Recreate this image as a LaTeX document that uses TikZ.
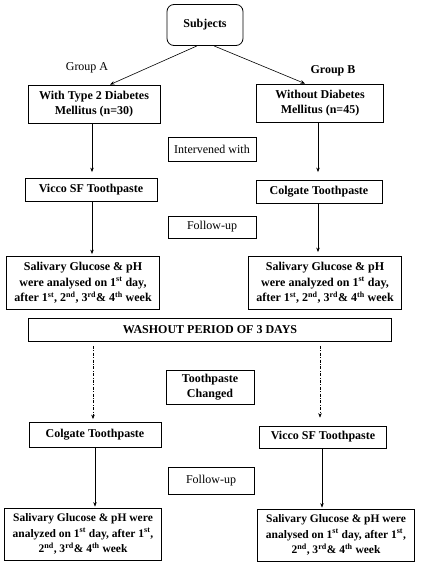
\documentclass[tikz,border=0pt]{standalone}
\usepackage{fontspec}
\setmainfont{Liberation Serif}
\usepackage{tikz}
\usetikzlibrary{arrows.meta}
\tikzset{
	box/.style={draw, line width=0.8pt, align=center, inner sep=2pt, font=\fontsize{12}{15.5}\selectfont\bfseries},
	plainbox/.style={box, font=\fontsize{12}{15.5}\selectfont},
	lowbox/.style={box, font=\fontsize{11.5}{15.5}\selectfont\bfseries},
	arr/.style={-{Stealth[length=4.5pt,width=3.5pt]}, line width=0.6pt},
	dasharr/.style={arr, line width=0.5pt, dash pattern=on 3pt off 1.5pt on 0.8pt off 1.5pt}
}

\begin{document}
\begin{tikzpicture}[x=1pt,y=-1pt]
			\useasboundingbox (0,0) rectangle (420,567);
			\pgfmathsetmacro{\colw}{132}
			\pgfmathsetmacro{\salw}{153}
			\node[box, rounded corners=7pt, minimum width=76, minimum height=41] (subj) at (205,25) {Subjects};
			\node[font=\fontsize{12}{15}\selectfont] (grpA) at (87,68) {Group A};
			\node[font=\fontsize{12}{15}\selectfont\bfseries] (grpB) at (333,71) {Group B};
			\node[box, minimum width=\colw, minimum height=38] (withdm) at (94,104) {With Type 2 Diabetes\\Mellitus (n=30)};
			\node[box, minimum width=127, minimum height=38] (nodm) at (320,103) {Without Diabetes\\Mellitus (n=45)};
			\node[plainbox, minimum width=88, minimum height=24] (interv) at (212,149) {Intervened with};
			\node[box, minimum width=\colw, minimum height=23] (viccoA) at (91,190) {Vicco SF Toothpaste};
			\node[box, minimum width=126, minimum height=23] (colgB) at (319,192) {Colgate Toothpaste};
			\node[plainbox, minimum width=88, minimum height=22] (follow1) at (212,227) {Follow-up};
			\node[box, minimum width=\salw, minimum height=53] (salA) at (83,283) {Salivary Glucose \& pH\\were analysed on 1\textsuperscript{st} day,\\after 1\textsuperscript{st}, 2\textsuperscript{nd}, 3\textsuperscript{rd}\& 4\textsuperscript{th} week};
			\node[box, minimum width=\salw, minimum height=53] (salB) at (325,283) {Salivary Glucose \& pH\\were analyzed on 1\textsuperscript{st} day,\\after 1\textsuperscript{st}, 2\textsuperscript{nd}, 3\textsuperscript{rd}\& 4\textsuperscript{th} week};
			\node[box, minimum width=363, minimum height=23] (wash) at (210,330) {WASHOUT PERIOD OF 3 DAYS};
			\node[box, minimum width=88, minimum height=34] (changed) at (210,387) {Toothpaste\\Changed};
			\node[box, minimum width=\colw, minimum height=25] (colgA) at (95,435) {Colgate Toothpaste};
			\node[box, minimum width=127, minimum height=22] (viccoB) at (323,437) {Vicco SF Toothpaste};
			\node[plainbox, minimum width=86, minimum height=27] (follow2) at (211,481) {Follow-up};
			\node[lowbox, minimum width=157, minimum height=52] (salC) at (83,534) {Salivary Glucose \& pH were\\analyzed on 1\textsuperscript{st} day, after 1\textsuperscript{st},\\2\textsuperscript{nd}, 3\textsuperscript{rd}\& 4\textsuperscript{th} week};
			\node[lowbox, minimum width=157, minimum height=52] (salD) at (336,535) {Salivary Glucose \& pH were\\analysed on 1\textsuperscript{st} day, after 1\textsuperscript{st},\\2\textsuperscript{nd}, 3\textsuperscript{rd}\& 4\textsuperscript{th} week};
			\coordinate (colA) at (92,0);
			\coordinate (colB) at (318,0);
			\coordinate (colC) at (93,0);
			\coordinate (colD) at (320,0);
			\coordinate (colE) at (95,0);
			\coordinate (colF) at (322,0);
			\draw[arr] ([xshift=-8pt]subj.south) -- ([xshift=16pt]withdm.north);
			\draw[arr] ([xshift=9pt]subj.south) -- ([xshift=-15pt]nodm.north);
			\draw[arr, shorten >=6pt] (withdm.south -| colA) -- (viccoA.north -| colA);
			\draw[arr, shorten >=8pt] (nodm.south -| colB) -- (colgB.north -| colB);
			\draw[arr, shorten >=2pt] (viccoA.south -| colA) -- (salA.north -| colA);
			\draw[arr, shorten >=4pt] (colgB.south -| colB) -- (salB.north -| colB);
			\draw[dasharr, shorten <=4pt, shorten >=3pt] (wash.south -| colC) -- (colgA.north -| colC);
			\draw[dasharr, shorten <=4pt, shorten >=8pt] (wash.south -| colD) -- (viccoB.north -| colD);
			\draw[arr, shorten >=1pt] (colgA.south -| colE) -- (salC.north -| colE);
			\draw[arr, shorten >=1pt] (viccoB.south -| colF) -- (salD.north -| colF);
		\end{tikzpicture}
\end{document}
